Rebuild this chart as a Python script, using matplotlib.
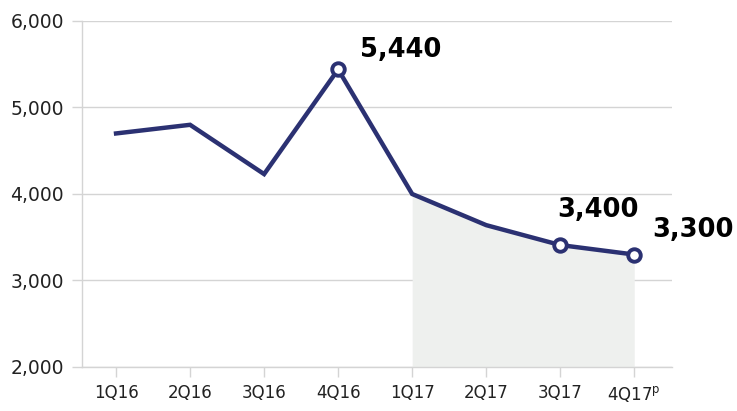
import matplotlib
matplotlib.use("Agg")
import matplotlib.pyplot as plt

plt.rcParams['font.family'] = ['DejaVu Sans']
plt.rcParams['mathtext.fontset'] = 'dejavusans'

quarters = ["1Q16", "2Q16", "3Q16", "4Q16", "1Q17", "2Q17", "3Q17", "4Q17$^{\\mathrm{p}}$"]
values = [4700, 4800, 4230, 5440, 4000, 3640, 3410, 3300]
highlight_idx = [3, 6, 7]
highlight_labels = ["5,440", "3,400", "3,300"]
label_offsets = [(45, 14), (27, 25), (42, 18)]
shade_start = 4
yticks = [2000, 3000, 4000, 5000, 6000]

navy = "#2b3172"
grid = "#d4d4d4"

fig = plt.figure(figsize=(7.37, 4.11), dpi=100)
ax = fig.add_axes([82/737, 1-367/411, (672-82)/737, (367-21)/411])

x = list(range(len(quarters)))
ax.fill_between(x[shade_start:], values[shade_start:], 2000, color="#eef0ee", lw=0, zorder=1)
ax.plot(x, values, color=navy, lw=3.2, zorder=3, solid_joinstyle='miter')
ax.plot([x[i] for i in highlight_idx], [values[i] for i in highlight_idx], 'o',
        ms=9, mfc='white', mec=navy, mew=2.8, zorder=4)

for i, lab, off in zip(highlight_idx, highlight_labels, label_offsets):
    ax.annotate(lab, (x[i], values[i]), xytext=off, textcoords='offset points',
                ha='center', va='center', fontsize=18.5, fontweight='bold', color='black')

ax.set_xlim(-0.46, 7.51)
ax.set_ylim(2000, 6000)
ax.set_yticks(yticks)
ax.set_yticklabels([f"{v:,}" for v in yticks])
ax.set_xticks(x)
ax.set_xticklabels(quarters)
ax.yaxis.grid(True, color=grid, lw=1, zorder=0)
ax.set_axisbelow(True)

for s in ['top', 'right']:
    ax.spines[s].set_visible(False)
for s in ['left', 'bottom']:
    ax.spines[s].set_color(grid)
    ax.spines[s].set_linewidth(1)

ax.tick_params(axis='y', length=7, width=1, color=grid, pad=6, labelsize=13.5, labelcolor='#222222')
ax.tick_params(axis='x', length=7, width=1, color=grid, pad=5, labelsize=12, labelcolor='#222222')

fig.savefig("out.png", dpi=100)
